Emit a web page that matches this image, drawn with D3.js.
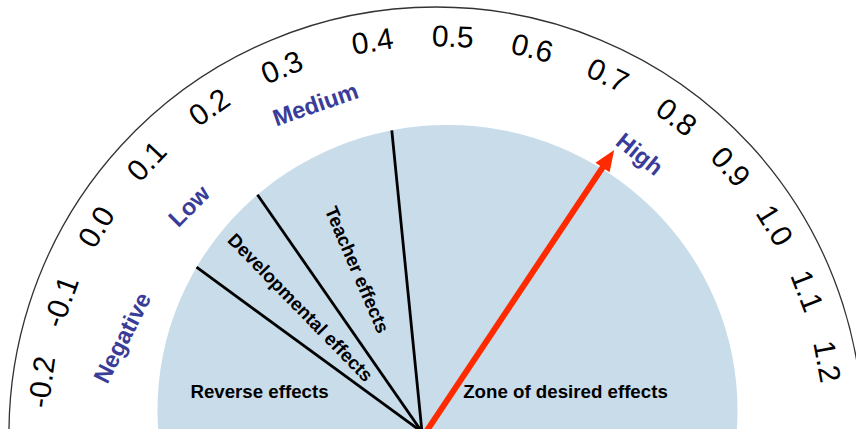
<!DOCTYPE html>
<html>
<head>
<meta charset="utf-8">
<script src="https://cdn.jsdelivr.net/npm/d3@7"></script>
<style>
  html, body { margin: 0; padding: 0; background: #fff; }
  svg { display: block; }
  text { font-family: "Liberation Sans", Arial, Helvetica, sans-serif; }
</style>
</head>
<body>
<svg id="chart" width="856" height="429"></svg>
<script>
// ---- data ----
const tickValues = [-0.2, -0.1, 0.0, 0.1, 0.2, 0.3, 0.4, 0.5, 0.6, 0.7, 0.8, 0.9, 1.0, 1.1, 1.2];
const tickLabels = ["-0.2", "-0.1", "0.0", "0.1", "0.2", "0.3", "0.4", "0.5", "0.6", "0.7", "0.8", "0.9", "1.0", "1.1", "1.2"];
const levelNames = ["Negative", "Low", "Medium", "High"];
const levelValues = [-0.12, 0.095, 0.32, 0.79];
const zoneBoundaries = [0.04, 0.2, 0.43];
const zoneNames = ["Reverse effects", "Developmental effects", "Teacher effects", "Zone of desired effects"];
const arrowValue = 0.77;

// ---- layout ----
const W = 856, H = 429;
const svg = d3.select("#chart");
const deg = Math.PI / 180;

// value -> angle (degrees, clockwise from vertical)
const angle = d3.scaleLinear()
  .domain([-0.2, 0.3, 0.4, 0.8, 1.2])
  .range([-82.5, -22.8, -9.2, 37.2, 79.5]);

const ring = { cx: 436, cy: 434, arcR: 427, labelR: 398, levelR: [328, 336, 351, 346], levelRot: [10, 2, 1, 3] };
const dial = { cx: 447.5, cy: 410, rx: 290, ry: 285 };
const pivot = { x: 422, y: 432 };
const arrowBase = { x: 426, y: 432 };

const polar = (c, r, a) => [c.cx + r * Math.sin(a * deg), c.cy - r * Math.cos(a * deg)];

// blue dial (ellipse)
svg.append("ellipse")
  .attr("cx", dial.cx).attr("cy", dial.cy)
  .attr("rx", dial.rx).attr("ry", dial.ry)
  .attr("fill", "#c9dcea");

// outer arc
const p = d3.path();
p.arc(ring.cx, ring.cy, ring.arcR, (-95 - 90) * deg, (95 - 90) * deg);
svg.append("path").attr("d", p.toString())
  .attr("fill", "none").attr("stroke", "#333").attr("stroke-width", 1.3);

// tick labels
svg.append("g").selectAll("text")
  .data(tickValues)
  .join("text")
  .attr("transform", (v) => {
    const a = angle(v);
    const [x, y] = polar(ring, ring.labelR, a);
    return `translate(${x},${y}) rotate(${a})`;
  })
  .attr("text-anchor", "middle")
  .attr("dominant-baseline", "central")
  .attr("font-size", 30)
  .attr("fill", "#000")
  .text((v, i) => tickLabels[i]);

// level labels
svg.append("g").selectAll("text")
  .data(levelNames)
  .join("text")
  .attr("transform", (d, i) => {
    const a = angle(levelValues[i]);
    const [x, y] = polar(ring, ring.levelR[i], a);
    return `translate(${x},${y}) rotate(${a + ring.levelRot[i]})`;
  })
  .attr("text-anchor", "middle")
  .attr("dominant-baseline", "central")
  .attr("font-size", 23.5)
  .attr("font-weight", "bold")
  .attr("fill", "#393c99")
  .text((d) => d);

// intersection of ray from pivot with dial ellipse
function rayToEllipse(o, a) {
  const sx = Math.sin(a * deg), sy = -Math.cos(a * deg);
  const dx = o.x - dial.cx, dy = o.y - dial.cy;
  const A = (sx * sx) / (dial.rx * dial.rx) + (sy * sy) / (dial.ry * dial.ry);
  const B = 2 * ((dx * sx) / (dial.rx * dial.rx) + (dy * sy) / (dial.ry * dial.ry));
  const C = (dx * dx) / (dial.rx * dial.rx) + (dy * dy) / (dial.ry * dial.ry) - 1;
  const t = (-B + Math.sqrt(B * B - 4 * A * C)) / (2 * A);
  return [o.x + t * sx, o.y + t * sy];
}

// zone boundary lines
svg.append("g").selectAll("line")
  .data(zoneBoundaries)
  .join("line")
  .attr("x1", pivot.x).attr("y1", pivot.y)
  .attr("x2", (v) => rayToEllipse(pivot, angle(v))[0])
  .attr("y2", (v) => rayToEllipse(pivot, angle(v))[1])
  .attr("stroke", "#000").attr("stroke-width", 2.8);

// zone labels
const zoneFont = 18.7;
// Reverse effects (horizontal)
svg.append("text")
  .attr("x", 259.5).attr("y", 398)
  .attr("text-anchor", "middle")
  .attr("font-size", zoneFont).attr("font-weight", "bold")
  .text(zoneNames[0]);
// rotated sector labels
[1, 2].forEach((k) => {
  const a = (angle(zoneBoundaries[k - 1]) + angle(zoneBoundaries[k])) / 2;
  const d = k === 1 ? 174 : 173;
  const x = pivot.x + d * Math.sin(a * deg) - (k === 2 ? 5 : 0);
  const y = pivot.y - d * Math.cos(a * deg);
  svg.append("text")
    .attr("transform", `translate(${x},${y}) rotate(${a + 90 - (k === 2 ? 3 : 0)})`)
    .attr("text-anchor", "middle")
    .attr("dominant-baseline", "central")
    .attr("font-size", zoneFont).attr("font-weight", "bold")
    .text(zoneNames[k]);
});
// Zone of desired effects
svg.append("text")
  .attr("x", 565.5).attr("y", 398)
  .attr("text-anchor", "middle")
  .attr("font-size", zoneFont).attr("font-weight", "bold")
  .text(zoneNames[3]);

// arrow
const aA = angle(arrowValue);
const aLen = 339;
const ux = Math.sin(aA * deg), uy = -Math.cos(aA * deg);
const tip = [arrowBase.x + aLen * ux, arrowBase.y + aLen * uy];
const headL = 21, headW = 8.5;
const base = [tip[0] - headL * ux, tip[1] - headL * uy];
svg.append("line")
  .attr("x1", arrowBase.x).attr("y1", arrowBase.y)
  .attr("x2", base[0] + 2 * ux).attr("y2", base[1] + 2 * uy)
  .attr("stroke", "#ff2a00").attr("stroke-width", 6);
svg.append("polygon")
  .attr("points", [
    tip,
    [base[0] - headW * uy, base[1] + headW * ux],
    [base[0] + headW * uy, base[1] - headW * ux]
  ].map((q) => q.join(",")).join(" "))
  .attr("fill", "#ff2a00");
</script>
</body>
</html>
